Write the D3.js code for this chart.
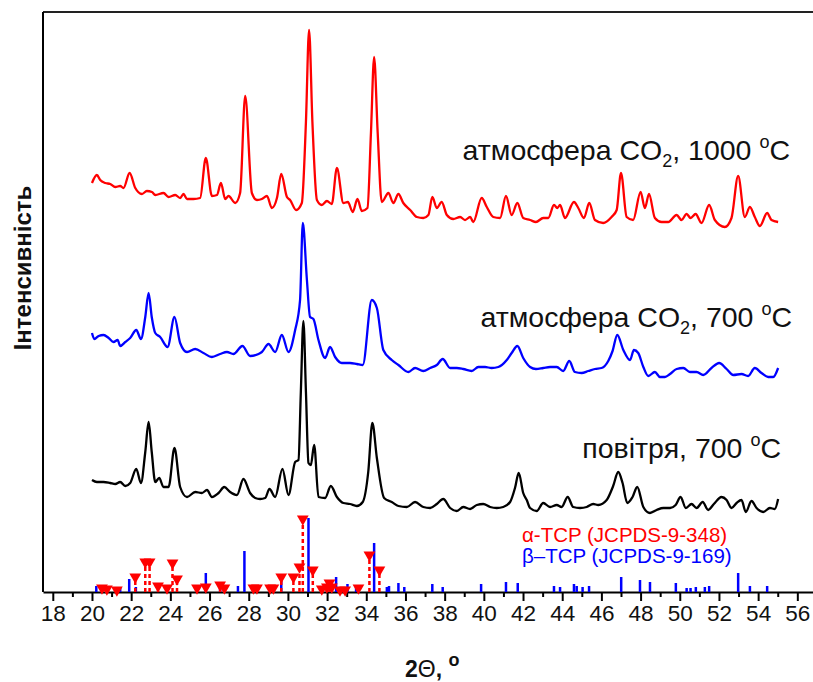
<!DOCTYPE html>
<html>
<head>
<meta charset="utf-8">
<script src="https://cdn.jsdelivr.net/npm/d3@7"></script>
<style>
  body { margin: 0; background: #fff; }
  svg { display: block; }
  text { font-family: "Liberation Sans", Arial, sans-serif; }
</style>
</head>
<body>
<div id="chart"></div>
<script>
// ===== Data (2θ, intensity a.u. with vertical offsets) =====
const red1000 = [
  [20.00,409],[20.25,417],[20.42,412],[20.68,409],[20.93,408],[21.19,405],[21.44,406],[21.61,404],
  [21.92,419],[22.21,404],[22.55,398],[22.80,401],[23.06,400],[23.23,397],[23.65,399],[23.91,395],
  [24.25,397],[24.50,394],[24.67,398],[24.85,393],[25.18,393],[25.52,394],[25.81,434],[26.12,396],
  [26.38,397],[26.58,409],[26.80,393],[26.97,396],[27.31,389],[27.56,399],[27.82,496],[28.16,399],
  [28.42,392],[28.67,393],[28.93,396],[29.18,384],[29.44,394],[29.66,418],[29.95,395],[30.11,392],
  [30.42,382],[30.71,389],[30.92,470],[31.08,562],[31.25,470],[31.48,392],[31.73,387],[31.99,391],
  [32.24,388],[32.50,424],[32.83,389],[33.06,390],[33.31,380],[33.55,393],[33.77,381],[34.06,384],
  [34.24,460],[34.40,535],[34.58,460],[34.79,390],[35.13,399],[35.38,389],[35.64,398],[35.89,389],
  [36.24,382],[36.58,375],[36.91,374],[37.17,377],[37.37,395],[37.60,384],[37.85,390],[38.11,377],
  [38.44,373],[38.79,375],[39.04,372],[39.30,375],[39.46,370],[39.89,394],[40.15,385],[40.48,375],
  [40.83,374],[41.13,396],[41.42,377],[41.71,389],[42.01,374],[42.36,372],[42.66,370],[43.03,374],
  [43.29,374],[43.58,387],[43.75,384],[43.89,387],[44.14,374],[44.60,390],[44.82,384],[45.11,374],
  [45.38,389],[45.67,372],[46.09,369],[46.52,375],[46.78,382],[47.00,419],[47.29,375],[47.62,372],
  [48.00,400],[48.22,384],[48.43,398],[48.73,374],[49.07,370],[49.41,370],[49.84,377],[50.09,372],
  [50.35,378],[50.55,374],[50.81,378],[51.11,369],[51.50,387],[51.79,372],[52.30,365],[52.64,374],
  [52.98,416],[53.32,375],[53.58,385],[53.83,375],[54.09,366],[54.46,379],[54.68,372],[55.02,370]
];

const blue700 = [
  [20.00,259],[20.12,253],[20.34,256],[20.59,257],[20.85,254],[21.10,250],[21.31,252],[21.44,246],
  [21.70,250],[21.95,254],[22.26,262],[22.50,253],[22.72,275],[22.89,299],[23.05,275],[23.23,259],
  [23.48,255],[23.86,245],[24.21,275],[24.50,249],[24.85,240],[25.27,243],[25.69,239],[26.12,235],
  [26.54,238],[26.89,240],[27.22,238],[27.68,246],[28.07,236],[28.50,238],[28.67,240],[29.01,248],
  [29.35,240],[29.69,257],[30.03,240],[30.37,262],[30.62,292],[30.76,369],[30.97,312],[31.13,275],
  [31.30,273],[31.56,252],[31.90,234],[32.15,245],[32.41,235],[32.75,229],[33.17,229],[33.52,228],
  [33.82,227],[34.28,292],[34.54,284],[34.87,242],[35.30,232],[35.64,227],[36.15,220],[36.49,224],
  [36.91,221],[37.26,224],[37.60,227],[37.90,233],[38.28,224],[38.62,224],[38.95,223],[39.38,221],
  [39.72,225],[40.06,225],[40.40,224],[40.74,225],[41.17,232],[41.42,239],[41.71,246],[42.01,234],
  [42.36,225],[42.66,223],[43.03,224],[43.38,225],[43.72,225],[44.05,221],[44.36,231],[44.65,220],
  [44.99,219],[45.33,221],[45.67,223],[46.01,224],[46.35,231],[46.57,241],[46.81,257],[47.12,242],
  [47.46,232],[47.66,242],[47.88,239],[48.14,225],[48.39,216],[48.73,220],[48.99,215],[49.24,215],
  [49.50,218],[49.84,223],[50.18,224],[50.52,220],[50.86,220],[51.20,217],[51.62,224],[52.01,229],
  [52.39,223],[52.73,217],[53.15,218],[53.49,216],[53.83,224],[54.17,219],[54.51,215],[54.77,215],
  [55.02,224]
];

const black700 = [
  [20.00,112],[20.25,110],[20.59,110],[20.93,109],[21.19,108],[21.44,110],[21.70,106],[21.95,109],
  [22.26,123],[22.50,109],[22.72,140],[22.89,170],[23.05,140],[23.23,110],[23.43,114],[23.65,105],
  [23.91,105],[24.21,144],[24.50,105],[24.85,95],[25.27,100],[25.61,99],[25.87,102],[26.12,95],
  [26.46,99],[26.75,105],[27.05,100],[27.40,97],[27.73,113],[28.07,99],[28.33,94],[28.58,93],
  [28.84,94],[29.06,103],[29.35,95],[29.72,123],[30.03,97],[30.37,130],[30.54,132],[30.66,200],
  [30.79,271],[30.92,200],[31.05,129],[31.17,127],[31.34,147],[31.56,95],[31.90,94],[32.19,106],
  [32.50,95],[32.83,89],[33.17,88],[33.52,86],[33.82,90],[34.10,120],[34.31,169],[34.54,134],
  [34.91,94],[35.30,90],[35.64,86],[36.07,85],[36.49,90],[36.91,85],[37.26,84],[37.60,88],
  [37.93,93],[38.28,84],[38.62,81],[38.95,85],[39.30,83],[39.64,87],[39.97,88],[40.32,85],
  [40.66,84],[40.99,85],[41.34,90],[41.59,104],[41.78,119],[42.01,99],[42.19,92],[42.36,84],
  [42.70,81],[43.03,89],[43.38,85],[43.72,87],[43.97,85],[44.28,95],[44.56,85],[44.91,84],
  [45.25,85],[45.58,88],[45.84,87],[46.27,92],[46.60,106],[46.86,120],[47.08,109],[47.32,89],
  [47.59,95],[47.83,105],[48.14,85],[48.48,79],[48.82,82],[49.16,84],[49.50,84],[49.79,87],
  [50.04,95],[50.31,84],[50.60,88],[50.86,84],[51.17,90],[51.45,82],[51.74,88],[52.13,95],
  [52.39,92],[52.64,84],[52.90,89],[53.15,92],[53.37,80],[53.66,91],[53.92,84],[54.26,80],
  [54.60,84],[54.85,83],[55.02,93]
];

// β-TCP (JCPDS-9-169): position, relative intensity
const betaTCP = [
  [20.22,6],[21.44,4],[21.90,13],[22.24,5],[25.81,19],[26.54,8],[27.45,6],[27.78,41],[29.66,12],
  [31.05,74],[32.46,15],[33.04,8],[33.48,6],[34.40,49],[35.05,5],[35.16,6],[35.64,9],[35.94,5],
  [37.37,8],[37.90,5],[39.86,8],[41.13,10],[41.73,9],[43.58,6],[43.89,5],[44.60,8],[44.74,6],
  [45.04,5],[45.37,6],[47.01,15],[47.97,12],[48.48,10],[49.80,9],[50.35,4],[50.55,4],[50.82,5],
  [51.28,5],[51.50,6],[52.98,19],[53.58,6],[54.46,6]
];

// α-TCP (JCPDS-9-348): position, relative intensity
const alphaTCP = [
  [20.51,4],[20.76,3],[21.27,2],[22.21,15],[22.72,30],[22.94,30],[23.37,6],[23.83,4],[24.11,29],
  [24.34,13],[25.36,4],[25.81,5],[26.54,7],[26.76,4],[28.24,4],[28.42,4],[29.09,4],[29.26,4],
  [29.66,15],[30.28,15],[30.59,25],[30.76,73],[31.27,22],[31.73,3],[31.99,5],[32.12,9],[32.24,5],
  [32.66,2],[32.92,2],[33.60,4],[34.16,37],[34.67,22]
];

const majorTicks = [18,20,22,24,26,28,30,32,34,36,38,40,42,44,46,48,50,52,54,56];
const minorTicks = [19,21,23,25,27,29,31,33,35,37,39,41,43,45,47,49,51,53,55];

const seriesColors = ["#ff0000", "#0000ff", "#000000"];
// label: [main text, subscript, rest, superscript, tail]
const seriesLabels = [
  ["атмосфера CO", "2", ", 1000 ", "o", "C"],
  ["атмосфера CO", "2", ", 700 ", "o", "C"],
  ["повітря, 700 ", "", "", "o", "C"]
];
const labelAnchors = [[790, 160], [792, 327], [781, 458]];

const refLabels = ["α-TCP (JCPDS-9-348)", "β–TCP (JCPDS-9-169)"];

// ===== SVG =====
const W = 813, H = 682;
const svg = d3.select("#chart").append("svg").attr("width", W).attr("height", H);

const x = d3.scaleLinear().domain([17.5, 56.8]).range([43, 813]);
const y = d3.scaleLinear().domain([0, 580]).range([592, 12]);

// frame: top + left
svg.append("line").attr("x1", 43).attr("x2", W).attr("y1", 12).attr("y2", 12)
  .attr("stroke", "#222").attr("stroke-width", 2);
svg.append("line").attr("x1", 43).attr("x2", 43).attr("y1", 12).attr("y2", 592)
  .attr("stroke", "#000").attr("stroke-width", 2);

// axis
const axisMinor = svg.append("g").attr("transform", "translate(0,592)")
  .call(d3.axisBottom(x).tickValues(minorTicks).tickSize(5).tickFormat(""));
axisMinor.select(".domain").remove();
axisMinor.selectAll("line").attr("stroke-width", 2);

const axisMajor = svg.append("g").attr("transform", "translate(0,592)")
  .call(d3.axisBottom(x).tickValues(majorTicks).tickSize(9).tickSizeOuter(0).tickPadding(4)
    .tickFormat(d3.format("d")));
axisMajor.select(".domain").attr("stroke-width", 2);
axisMajor.selectAll("line").attr("stroke-width", 2);
axisMajor.selectAll("text")
  .style("font-size", "22.5px")
  .style("font-family", "'Liberation Sans', Arial, sans-serif")
  .attr("fill", "#111");

// reference sticks: β first, α on top
svg.append("g").selectAll("line").data(betaTCP).enter().append("line")
  .attr("x1", d => x(d[0])).attr("x2", d => x(d[0]))
  .attr("y1", y(0)).attr("y2", d => y(d[1]))
  .attr("stroke", "#0000ff").attr("stroke-width", 2.5);

const aG = svg.append("g");
aG.selectAll("line").data(alphaTCP).enter().append("line")
  .attr("x1", d => x(d[0])).attr("x2", d => x(d[0]))
  .attr("y1", y(0)).attr("y2", d => y(d[1]))
  .attr("stroke", "#ff0000").attr("stroke-width", 2.5).attr("stroke-dasharray", "4,3");
aG.selectAll("path").data(alphaTCP).enter().append("path")
  .attr("d", d3.symbol().type(d3.symbolTriangle).size(60))
  .attr("transform", d => `translate(${x(d[0])},${y(d[1])}) rotate(180)`)
  .attr("fill", "#ff0000");

// spectra
const line = d3.line().x(d => x(d[0])).y(d => y(d[1])).curve(d3.curveMonotoneX);
[red1000, blue700, black700].forEach((s, i) => {
  svg.append("path").datum(s).attr("d", line)
    .attr("fill", "none").attr("stroke", seriesColors[i])
    .attr("stroke-width", 2.3).attr("stroke-linejoin", "round");
});

// series labels
seriesLabels.forEach((p, i) => {
  const t = svg.append("text")
    .attr("x", labelAnchors[i][0]).attr("y", labelAnchors[i][1])
    .attr("text-anchor", "end").style("font-size", "28.5px").attr("fill", "#111");
  t.append("tspan").text(p[0]);
  if (p[1]) {
    t.append("tspan").attr("dy", 7).style("font-size", "18px").text(p[1]);
    t.append("tspan").attr("dy", -7).text(p[2]);
  }
  t.append("tspan").attr("dy", -12).style("font-size", "18px").text(p[3]);
  t.append("tspan").attr("dy", 12).text(p[4]);
});

// reference legend
refLabels.forEach((s, i) => {
  svg.append("text").attr("x", 522).attr("y", 542 + i * 21)
    .style("font-size", "20.5px").attr("fill", i === 0 ? "#ff0000" : "#0000ff")
    .text(s);
});

// axis titles
const xt = svg.append("text").attr("x", 405).attr("y", 677)
  .style("font-size", "23px").style("font-weight", "bold").attr("fill", "#111");
xt.append("tspan").text("2");
xt.append("tspan").style("font-weight", "normal").text("Θ");
xt.append("tspan").text(", ");
xt.append("tspan").attr("dy", -11).style("font-size", "18px").text("o");

svg.append("text")
  .attr("transform", "translate(31,268) rotate(-90)")
  .attr("text-anchor", "middle")
  .style("font-size", "24px").style("font-weight", "bold").attr("fill", "#111")
  .text("Інтенсивність");
</script>
</body>
</html>
